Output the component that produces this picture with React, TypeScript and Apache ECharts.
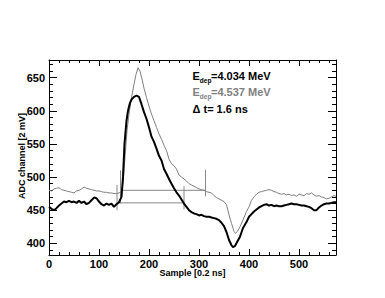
import React, { useEffect, useRef } from "react";
import * as echarts from "echarts";

const blackSamples = [0,5,10,15,20,25,30,35,40,45,50,55,60,65,70,75,80,85,90,95,100,105,110,115,120,125,130,135,140,145,148,151,155,158,162,165,170,175,180,185,190,195,200,205,210,215,220,225,230,235,240,245,250,255,260,265,270,275,280,285,290,295,300,305,310,315,320,325,330,335,340,345,350,355,360,365,368,372,377,382,388,395,400,405,410,415,420,425,430,435,440,445,450,455,460,465,470,475,480,485,490,495,500,505,510,515,520,525,530,535,540,545,550,555,560,565,570,574];
const blackValues = [455,452,450,453,457,460,463,462,464,462,463,461,464,461,463,459,461,465,469,468,463,459,457,460,458,460,455,459,462,470,500,550,585,600,612,617,621,623,621,610,598,588,575,561,553,543,532,525,512,505,497,490,483,477,472,466,460,455,450,447,445,444,442,443,441,440,440,439,438,437,435,431,426,417,405,397,394,396,403,410,423,432,440,444,448,451,454,456,458,459,457,458,456,457,456,456,457,458,459,460,459,459,458,457,457,456,455,453,450,450,454,457,459,460,460,461,462,462];

const graySamples = [0,5,10,15,20,25,30,35,40,45,50,55,60,65,70,75,80,85,90,95,100,105,110,115,120,125,130,135,140,145,148,152,156,160,165,170,174,178,182,186,190,195,200,205,210,215,220,225,230,235,240,245,250,255,260,265,270,275,280,285,290,295,300,305,310,315,320,325,330,335,340,345,350,355,360,365,370,373,377,382,388,395,400,405,410,415,420,425,430,435,440,445,450,455,460,465,470,475,480,485,490,495,500,505,510,515,520,525,530,535,540,545,550,555,560,565,570,574];
const grayValues = [480,479,482,483,484,481,480,479,478,477,476,479,480,482,485,483,482,481,480,479,479,478,477,477,476,476,475,475,476,478,490,530,570,595,620,640,655,665,660,648,634,620,607,595,585,575,565,557,548,540,527,520,517,512,503,500,497,494,490,488,486,484,482,481,480,478,477,476,472,469,467,465,463,458,443,430,418,415,418,425,435,448,455,465,470,474,477,478,479,480,481,480,478,477,475,474,475,473,474,472,473,471,474,473,472,475,474,476,473,471,472,470,469,467,468,470,472,471];

// [x1, y1, x2, y2] in data units
const markerSegments = [
  [136, 450, 136, 488],
  [143, 460, 143, 510],
  [136, 461, 270, 461],
  [143, 480, 313, 480],
  [270, 451, 270, 486],
  [313, 471, 313, 511],
];

const xTitle = "Sample [0.2 ns]";
const yTitle = "ADC channel [2 mV]";
const legendLines = [
  { value: "=4.034 MeV", color: "#000000" },
  { value: "=4.537 MeV", color: "#808080" },
];
const deltaText = "Δ t= 1.6 ns";

const X_MIN = 0, X_MAX = 574, Y_MIN = 382.3, Y_MAX = 676.7;
const FONT = "Liberation Sans";

export default function App() {
  const ref = useRef<HTMLDivElement>(null);
  useEffect(() => {
    if (!ref.current) return;
    const chart = echarts.init(ref.current, undefined, { renderer: "svg" });
    const grid = { left: 49, top: 60, width: 287, height: 195 };

    const mkX = (pos: "bottom" | "top", labels: boolean) => ({
      type: "value",
      position: pos,
      min: X_MIN,
      max: X_MAX,
      splitNumber: 5,
      axisLine: { show: true, onZero: false, lineStyle: { color: "#000", width: 1 } },
      axisTick: { show: true, inside: true, length: 6, lineStyle: { color: "#000" } },
      minorTick: { show: true, splitNumber: 5, length: 3, lineStyle: { color: "#000" } },
      splitLine: { show: false },
      axisLabel: {
        show: labels,
        margin: 3,
        fontFamily: FONT,
        fontWeight: "bold",
        fontSize: 11,
        color: "#000",
        showMinLabel: true,
        showMaxLabel: false,
        formatter: (v: number) => (v % 100 === 0 ? String(v) : ""),
      },
    });
    const mkY = (pos: "left" | "right", labels: boolean) => ({
      type: "value",
      position: pos,
      min: Y_MIN,
      max: Y_MAX,
      splitNumber: 5,
      axisLine: { show: true, onZero: false, lineStyle: { color: "#000", width: 1 } },
      axisTick: { show: true, inside: true, length: 8, lineStyle: { color: "#000" } },
      minorTick: { show: true, splitNumber: 5, length: 4, lineStyle: { color: "#000" } },
      splitLine: { show: false },
      axisLabel: {
        show: labels,
        margin: 4,
        fontFamily: FONT,
        fontWeight: "bold",
        fontSize: 11,
        color: "#000",
        showMinLabel: false,
        showMaxLabel: false,
        formatter: (v: number) => (v % 50 === 0 ? String(v) : ""),
      },
    });

    const markerSeries = markerSegments.map((s) => ({
      type: "line",
      data: [[s[0], s[1]], [s[2], s[3]]],
      symbol: "none",
      lineStyle: { color: "#888888", width: 1 },
      silent: true,
      z: 1,
    }));

    const legendGraphics: any[] = [];
    legendLines.forEach((l, i) => {
      const cy = 76.3 + i * 16;
      legendGraphics.push(
        { type: "text", x: 192.5, y: cy, style: { text: "E", fill: l.color, font: `bold 11px '${FONT}'`, verticalAlign: "middle", align: "left" } },
        { type: "text", x: 199.8, y: cy + 3.8, style: { text: "dep", fill: l.color, font: `bold 6.5px '${FONT}'`, verticalAlign: "middle", align: "left" } },
        { type: "text", x: 211, y: cy, style: { text: l.value, fill: l.color, font: `bold 11px '${FONT}'`, verticalAlign: "middle", align: "left" } }
      );
    });
    legendGraphics.push({
      type: "text", x: 192.5, y: 108.7,
      style: { text: deltaText, fill: "#000", font: `bold 11px '${FONT}'`, verticalAlign: "middle", align: "left" },
    });

    chart.setOption({
      animation: false,
      backgroundColor: "#ffffff",
      grid,
      xAxis: [mkX("bottom", true), mkX("top", false)],
      yAxis: [mkY("left", true), mkY("right", false)],
      series: [
        ...markerSeries,
        {
          type: "line",
          data: graySamples.map((x, i) => [x, grayValues[i]]),
          symbol: "none",
          lineStyle: { color: "#808080", width: 1 },
          z: 2,
        },
        {
          type: "line",
          data: blackSamples.map((x, i) => [x, blackValues[i]]),
          symbol: "none",
          lineStyle: { color: "#000000", width: 2 },
          z: 3,
        },
      ],
      graphic: [
        {
          type: "text", x: 192.5, y: 273,
          style: { text: xTitle, fill: "#000", font: `bold 9px '${FONT}'`, align: "center", verticalAlign: "middle" },
        },
        {
          type: "text", x: 21.7, y: 156, rotation: Math.PI / 2,
          style: { text: yTitle, fill: "#000", font: `bold 9px '${FONT}'`, align: "center", verticalAlign: "middle" },
        },
        ...legendGraphics,
      ],
    });
    return () => chart.dispose();
  }, []);
  return (
    <div
      ref={ref}
      style={{ position: "fixed", left: 0, top: 0, width: 385, height: 298, background: "#fff" }}
    />
  );
}
